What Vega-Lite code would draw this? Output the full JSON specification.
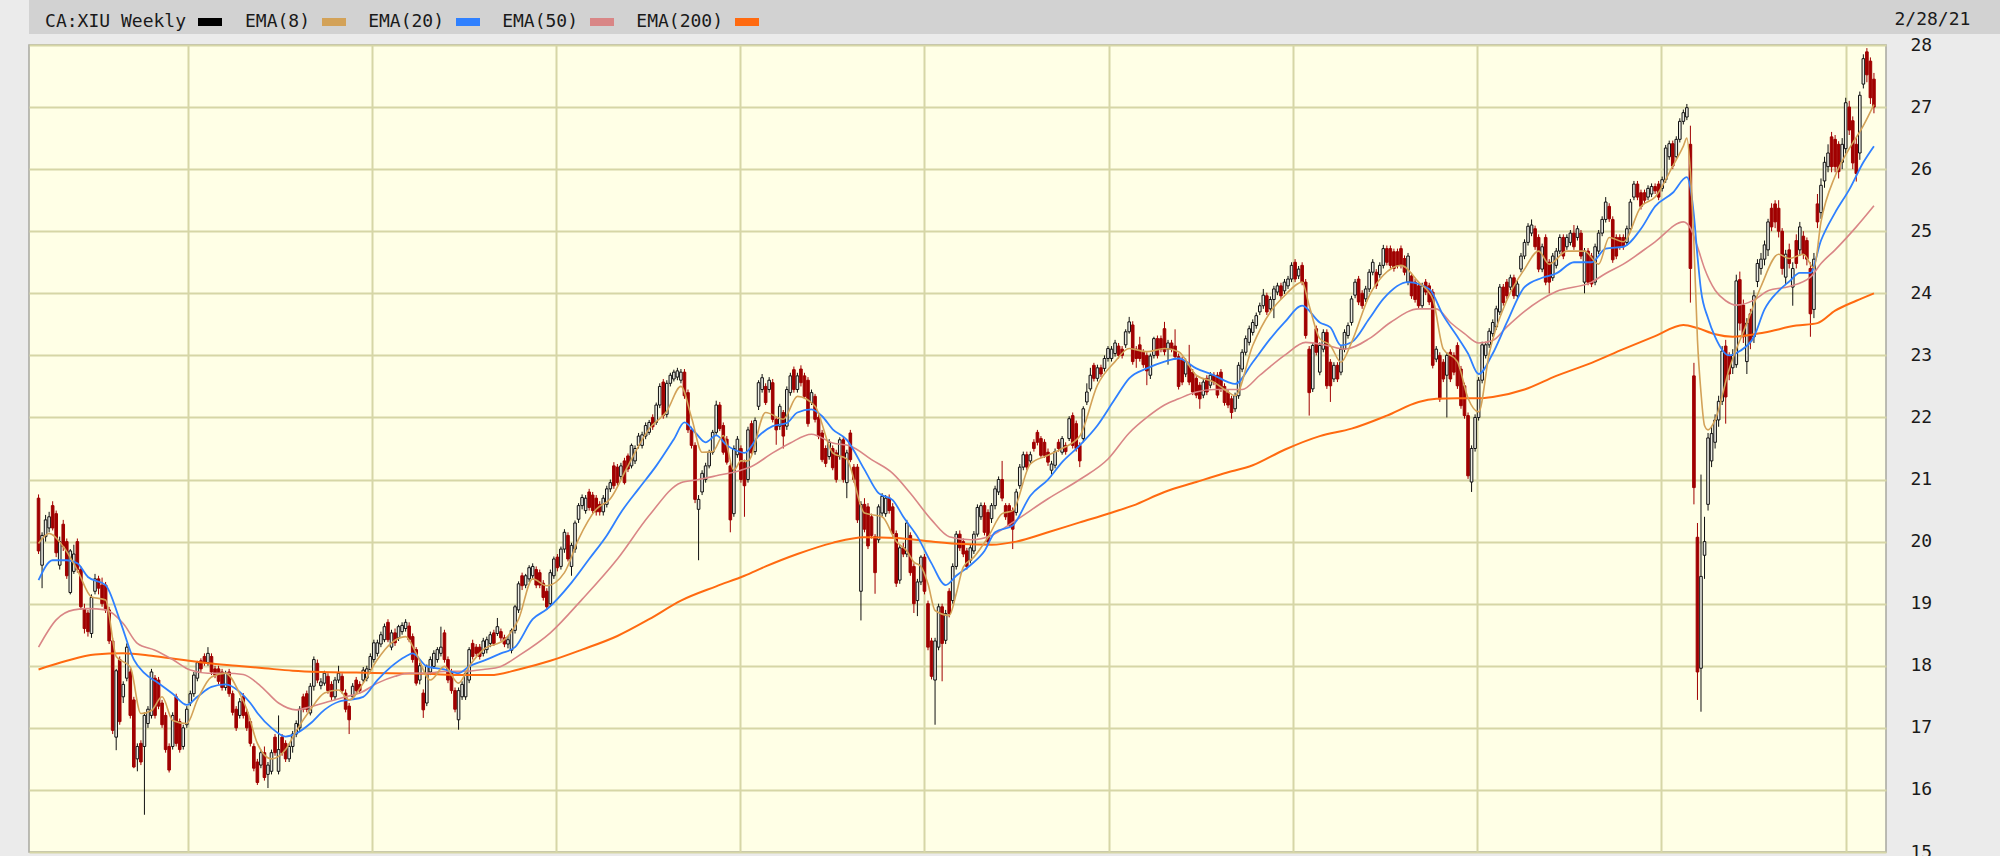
{
"$schema": "https://vega.github.io/schema/vega-lite/v6.json",
"padding": {"left": 28, "top": 0, "right": 0, "bottom": 0},
"background": "#ebebeb",
"spacing": 11,
"bounds": "flush",
"config": {
  "font": "DejaVu Sans Mono",
  "view": {"fill": "#ffffe6", "stroke": "#a8a8a0", "strokeWidth": 1.5}
},
"resolve": {"scale": {"color": "independent"}, "legend": {"color": "independent"}},
"datasets": {
"px": [
{"d":"2011-03-11","o":20.70,"h":20.76,"l":19.80,"c":19.85},
{"d":"2011-03-18","o":19.62,"h":20.15,"l":19.25,"c":20.10},
{"d":"2011-03-25","o":20.08,"h":20.43,"l":20.00,"c":20.35},
{"d":"2011-04-01","o":20.22,"h":20.48,"l":20.15,"c":20.40},
{"d":"2011-04-08","o":20.58,"h":20.65,"l":20.18,"c":20.22},
{"d":"2011-04-15","o":20.45,"h":20.50,"l":19.75,"c":19.82},
{"d":"2011-04-22","o":19.62,"h":20.08,"l":19.55,"c":20.00},
{"d":"2011-04-29","o":20.28,"h":20.35,"l":19.85,"c":19.92},
{"d":"2011-05-06","o":20.00,"h":20.05,"l":19.40,"c":19.45},
{"d":"2011-05-13","o":19.18,"h":19.88,"l":19.15,"c":19.85},
{"d":"2011-05-20","o":19.52,"h":19.95,"l":19.48,"c":19.80},
{"d":"2011-05-27","o":20.00,"h":20.05,"l":19.50,"c":19.55},
{"d":"2011-06-03","o":19.55,"h":19.60,"l":18.90,"c":18.95},
{"d":"2011-06-10","o":18.92,"h":19.00,"l":18.52,"c":18.60},
{"d":"2011-06-17","o":18.85,"h":18.90,"l":18.47,"c":18.55},
{"d":"2011-06-24","o":18.52,"h":19.15,"l":18.45,"c":19.10},
{"d":"2011-07-01","o":19.20,"h":19.48,"l":19.15,"c":19.40},
{"d":"2011-07-08","o":19.40,"h":19.45,"l":19.15,"c":19.25},
{"d":"2011-07-15","o":19.30,"h":19.42,"l":18.95,"c":19.00},
{"d":"2011-07-22","o":19.30,"h":19.35,"l":18.85,"c":18.90},
{"d":"2011-07-29","o":18.90,"h":18.95,"l":18.35,"c":18.40},
{"d":"2011-08-05","o":18.40,"h":18.45,"l":16.90,"c":16.96},
{"d":"2011-08-12","o":16.85,"h":17.95,"l":16.64,"c":17.92},
{"d":"2011-08-19","o":18.10,"h":18.15,"l":17.05,"c":17.10},
{"d":"2011-08-26","o":17.50,"h":17.75,"l":17.40,"c":17.70},
{"d":"2011-09-02","o":17.80,"h":18.36,"l":17.75,"c":18.30},
{"d":"2011-09-09","o":17.90,"h":17.95,"l":17.15,"c":17.20},
{"d":"2011-09-16","o":17.45,"h":17.50,"l":16.35,"c":16.37},
{"d":"2011-09-23","o":16.50,"h":16.75,"l":16.30,"c":16.70},
{"d":"2011-09-30","o":16.75,"h":16.80,"l":16.40,"c":16.45},
{"d":"2011-10-07","o":16.70,"h":17.25,"l":15.60,"c":17.20},
{"d":"2011-10-14","o":17.07,"h":17.35,"l":17.00,"c":17.30},
{"d":"2011-10-21","o":17.20,"h":17.95,"l":17.15,"c":17.90},
{"d":"2011-10-28","o":17.80,"h":17.85,"l":17.15,"c":17.20},
{"d":"2011-11-04","o":17.77,"h":17.82,"l":17.30,"c":17.35},
{"d":"2011-11-11","o":17.40,"h":17.45,"l":17.00,"c":17.05},
{"d":"2011-11-18","o":17.20,"h":17.25,"l":16.60,"c":16.65},
{"d":"2011-11-25","o":16.70,"h":16.75,"l":16.28,"c":16.32},
{"d":"2011-12-02","o":16.70,"h":17.25,"l":16.65,"c":17.20},
{"d":"2011-12-09","o":17.50,"h":17.55,"l":16.70,"c":16.75},
{"d":"2011-12-16","o":17.10,"h":17.15,"l":16.60,"c":16.65},
{"d":"2011-12-23","o":16.70,"h":17.05,"l":16.65,"c":17.00},
{"d":"2011-12-30","o":17.05,"h":17.35,"l":17.00,"c":17.30},
{"d":"2012-01-06","o":17.40,"h":17.60,"l":17.35,"c":17.55},
{"d":"2012-01-13","o":17.55,"h":17.90,"l":17.50,"c":17.85},
{"d":"2012-01-20","o":17.80,"h":18.08,"l":17.75,"c":18.05},
{"d":"2012-01-27","o":18.08,"h":18.12,"l":17.90,"c":17.95},
{"d":"2012-02-03","o":18.15,"h":18.20,"l":18.00,"c":18.05},
{"d":"2012-02-10","o":18.05,"h":18.30,"l":18.00,"c":18.20},
{"d":"2012-02-17","o":18.15,"h":18.20,"l":17.85,"c":17.90},
{"d":"2012-02-24","o":17.95,"h":18.00,"l":17.80,"c":17.85},
{"d":"2012-03-02","o":17.95,"h":18.00,"l":17.70,"c":17.75},
{"d":"2012-03-09","o":17.90,"h":17.95,"l":17.60,"c":17.65},
{"d":"2012-03-16","o":17.65,"h":17.92,"l":17.60,"c":17.88},
{"d":"2012-03-23","o":17.90,"h":17.95,"l":17.50,"c":17.55},
{"d":"2012-03-30","o":17.55,"h":17.60,"l":17.20,"c":17.25},
{"d":"2012-04-06","o":17.30,"h":17.35,"l":16.95,"c":17.00},
{"d":"2012-04-13","o":17.20,"h":17.48,"l":17.15,"c":17.42},
{"d":"2012-04-20","o":17.50,"h":17.56,"l":17.15,"c":17.20},
{"d":"2012-04-27","o":17.25,"h":17.30,"l":16.95,"c":17.00},
{"d":"2012-05-04","o":17.10,"h":17.15,"l":16.70,"c":16.75},
{"d":"2012-05-11","o":16.70,"h":16.75,"l":16.30,"c":16.35},
{"d":"2012-05-18","o":16.45,"h":16.50,"l":16.08,"c":16.12},
{"d":"2012-05-25","o":16.40,"h":16.65,"l":16.35,"c":16.60},
{"d":"2012-06-01","o":16.60,"h":16.70,"l":16.15,"c":16.20},
{"d":"2012-06-08","o":16.25,"h":16.45,"l":16.03,"c":16.40},
{"d":"2012-06-15","o":16.30,"h":16.65,"l":16.25,"c":16.60},
{"d":"2012-06-22","o":16.85,"h":16.90,"l":16.55,"c":16.60},
{"d":"2012-06-29","o":16.30,"h":17.20,"l":16.25,"c":16.65},
{"d":"2012-07-06","o":16.85,"h":16.90,"l":16.55,"c":16.60},
{"d":"2012-07-13","o":16.75,"h":16.80,"l":16.45,"c":16.50},
{"d":"2012-07-20","o":16.50,"h":16.75,"l":16.45,"c":16.70},
{"d":"2012-07-27","o":16.70,"h":16.95,"l":16.60,"c":16.90},
{"d":"2012-08-03","o":16.90,"h":17.12,"l":16.85,"c":17.07},
{"d":"2012-08-10","o":17.00,"h":17.35,"l":16.95,"c":17.30},
{"d":"2012-08-17","o":17.50,"h":17.55,"l":17.25,"c":17.30},
{"d":"2012-08-24","o":17.55,"h":17.60,"l":17.25,"c":17.30},
{"d":"2012-08-31","o":17.24,"h":17.72,"l":17.20,"c":17.67},
{"d":"2012-09-07","o":17.67,"h":18.15,"l":17.60,"c":18.10},
{"d":"2012-09-14","o":18.04,"h":18.10,"l":17.72,"c":17.77},
{"d":"2012-09-21","o":17.68,"h":17.80,"l":17.62,"c":17.74},
{"d":"2012-09-28","o":17.72,"h":17.92,"l":17.68,"c":17.88},
{"d":"2012-10-05","o":17.83,"h":17.88,"l":17.55,"c":17.60},
{"d":"2012-10-12","o":17.70,"h":17.75,"l":17.45,"c":17.50},
{"d":"2012-10-19","o":17.50,"h":17.82,"l":17.45,"c":17.77},
{"d":"2012-10-26","o":17.77,"h":18.00,"l":17.72,"c":17.88},
{"d":"2012-11-02","o":17.83,"h":17.88,"l":17.55,"c":17.60},
{"d":"2012-11-09","o":17.56,"h":17.62,"l":17.25,"c":17.30},
{"d":"2012-11-16","o":17.35,"h":17.40,"l":16.90,"c":17.13},
{"d":"2012-11-23","o":17.50,"h":17.72,"l":17.45,"c":17.67},
{"d":"2012-11-30","o":17.77,"h":17.82,"l":17.55,"c":17.60},
{"d":"2012-12-07","o":17.70,"h":17.75,"l":17.55,"c":17.60},
{"d":"2012-12-14","o":17.77,"h":17.98,"l":17.72,"c":17.93},
{"d":"2012-12-21","o":17.80,"h":18.00,"l":17.75,"c":17.95},
{"d":"2012-12-28","o":17.94,"h":18.20,"l":17.90,"c":18.15},
{"d":"2013-01-04","o":18.10,"h":18.42,"l":18.05,"c":18.37},
{"d":"2013-01-11","o":18.20,"h":18.42,"l":18.15,"c":18.37},
{"d":"2013-01-18","o":18.35,"h":18.55,"l":18.30,"c":18.50},
{"d":"2013-01-25","o":18.42,"h":18.68,"l":18.38,"c":18.63},
{"d":"2013-02-01","o":18.70,"h":18.75,"l":18.38,"c":18.42},
{"d":"2013-02-08","o":18.30,"h":18.58,"l":18.25,"c":18.53},
{"d":"2013-02-15","o":18.53,"h":18.60,"l":18.32,"c":18.37},
{"d":"2013-02-22","o":18.45,"h":18.66,"l":18.40,"c":18.63},
{"d":"2013-03-01","o":18.55,"h":18.70,"l":18.50,"c":18.65},
{"d":"2013-03-08","o":18.60,"h":18.75,"l":18.55,"c":18.70},
{"d":"2013-03-15","o":18.64,"h":18.70,"l":18.38,"c":18.42},
{"d":"2013-03-22","o":18.47,"h":18.52,"l":18.05,"c":18.10},
{"d":"2013-03-29","o":18.26,"h":18.30,"l":17.68,"c":17.72},
{"d":"2013-04-05","o":17.77,"h":18.05,"l":17.70,"c":18.00},
{"d":"2013-04-12","o":17.56,"h":17.62,"l":17.16,"c":17.29},
{"d":"2013-04-19","o":17.40,"h":18.02,"l":17.35,"c":17.99},
{"d":"2013-04-26","o":17.90,"h":18.15,"l":17.85,"c":18.10},
{"d":"2013-05-03","o":17.99,"h":18.25,"l":17.95,"c":18.20},
{"d":"2013-05-10","o":18.10,"h":18.30,"l":18.05,"c":18.26},
{"d":"2013-05-17","o":18.20,"h":18.63,"l":18.15,"c":18.30},
{"d":"2013-05-24","o":18.53,"h":18.58,"l":18.05,"c":18.10},
{"d":"2013-05-31","o":18.10,"h":18.15,"l":17.72,"c":17.77},
{"d":"2013-06-07","o":17.90,"h":17.95,"l":17.55,"c":17.60},
{"d":"2013-06-14","o":17.60,"h":17.65,"l":17.25,"c":17.30},
{"d":"2013-06-21","o":17.13,"h":17.65,"l":16.97,"c":17.60},
{"d":"2013-06-28","o":17.50,"h":17.75,"l":17.45,"c":17.70},
{"d":"2013-07-05","o":17.50,"h":17.92,"l":17.45,"c":17.88},
{"d":"2013-07-12","o":17.77,"h":18.30,"l":17.72,"c":18.26},
{"d":"2013-07-19","o":18.36,"h":18.42,"l":18.10,"c":18.15},
{"d":"2013-07-26","o":18.30,"h":18.35,"l":18.15,"c":18.20},
{"d":"2013-08-02","o":18.30,"h":18.35,"l":18.10,"c":18.15},
{"d":"2013-08-09","o":18.20,"h":18.45,"l":18.15,"c":18.40},
{"d":"2013-08-16","o":18.26,"h":18.47,"l":18.20,"c":18.42},
{"d":"2013-08-23","o":18.36,"h":18.55,"l":18.30,"c":18.50},
{"d":"2013-08-30","o":18.53,"h":18.58,"l":18.32,"c":18.36},
{"d":"2013-09-06","o":18.52,"h":18.77,"l":18.48,"c":18.63},
{"d":"2013-09-13","o":18.55,"h":18.60,"l":18.40,"c":18.45},
{"d":"2013-09-20","o":18.45,"h":18.50,"l":18.30,"c":18.35},
{"d":"2013-09-27","o":18.35,"h":18.48,"l":18.28,"c":18.42},
{"d":"2013-10-04","o":18.25,"h":18.60,"l":18.20,"c":18.57},
{"d":"2013-10-11","o":18.57,"h":18.98,"l":18.52,"c":18.95},
{"d":"2013-10-18","o":18.90,"h":19.36,"l":18.85,"c":19.32},
{"d":"2013-10-25","o":19.45,"h":19.50,"l":19.22,"c":19.29},
{"d":"2013-11-01","o":19.30,"h":19.48,"l":19.25,"c":19.45},
{"d":"2013-11-08","o":19.40,"h":19.62,"l":19.35,"c":19.58},
{"d":"2013-11-15","o":19.45,"h":19.65,"l":19.40,"c":19.60},
{"d":"2013-11-22","o":19.55,"h":19.60,"l":19.25,"c":19.30},
{"d":"2013-11-29","o":19.50,"h":19.55,"l":19.25,"c":19.30},
{"d":"2013-12-06","o":19.33,"h":19.38,"l":19.05,"c":19.10},
{"d":"2013-12-13","o":19.20,"h":19.25,"l":18.90,"c":18.95},
{"d":"2013-12-20","o":19.00,"h":19.55,"l":18.95,"c":19.50},
{"d":"2013-12-27","o":19.45,"h":19.76,"l":19.40,"c":19.72},
{"d":"2014-01-03","o":19.75,"h":19.80,"l":19.52,"c":19.58},
{"d":"2014-01-10","o":19.60,"h":19.92,"l":19.55,"c":19.88},
{"d":"2014-01-17","o":19.88,"h":20.20,"l":19.82,"c":20.15},
{"d":"2014-01-24","o":20.10,"h":20.15,"l":19.68,"c":19.72},
{"d":"2014-01-31","o":19.60,"h":19.98,"l":19.45,"c":19.94},
{"d":"2014-02-07","o":19.88,"h":20.34,"l":19.82,"c":20.30},
{"d":"2014-02-14","o":20.36,"h":20.62,"l":20.30,"c":20.58},
{"d":"2014-02-21","o":20.58,"h":20.76,"l":20.52,"c":20.71},
{"d":"2014-02-28","o":20.50,"h":20.75,"l":20.45,"c":20.70},
{"d":"2014-03-07","o":20.80,"h":20.85,"l":20.50,"c":20.55},
{"d":"2014-03-14","o":20.75,"h":20.80,"l":20.45,"c":20.50},
{"d":"2014-03-21","o":20.70,"h":20.75,"l":20.42,"c":20.48},
{"d":"2014-03-28","o":20.60,"h":20.65,"l":20.42,"c":20.48},
{"d":"2014-04-04","o":20.48,"h":20.75,"l":20.42,"c":20.70},
{"d":"2014-04-11","o":20.60,"h":20.90,"l":20.55,"c":20.85},
{"d":"2014-04-18","o":20.85,"h":21.00,"l":20.80,"c":20.95},
{"d":"2014-04-25","o":21.22,"h":21.28,"l":20.85,"c":20.90},
{"d":"2014-05-02","o":21.20,"h":21.25,"l":20.90,"c":20.95},
{"d":"2014-05-09","o":21.05,"h":21.27,"l":21.00,"c":21.22},
{"d":"2014-05-16","o":21.30,"h":21.35,"l":20.92,"c":20.95},
{"d":"2014-05-23","o":21.38,"h":21.42,"l":21.12,"c":21.17},
{"d":"2014-05-30","o":21.22,"h":21.58,"l":21.18,"c":21.55},
{"d":"2014-06-06","o":21.30,"h":21.55,"l":21.25,"c":21.50},
{"d":"2014-06-13","o":21.55,"h":21.75,"l":21.50,"c":21.70},
{"d":"2014-06-20","o":21.55,"h":21.77,"l":21.50,"c":21.72},
{"d":"2014-06-27","o":21.70,"h":21.92,"l":21.65,"c":21.87},
{"d":"2014-07-04","o":21.76,"h":21.96,"l":21.72,"c":21.92},
{"d":"2014-07-11","o":22.00,"h":22.05,"l":21.80,"c":21.85},
{"d":"2014-07-18","o":21.92,"h":22.24,"l":21.88,"c":22.20},
{"d":"2014-07-25","o":22.20,"h":22.55,"l":22.15,"c":22.50},
{"d":"2014-08-01","o":22.57,"h":22.62,"l":21.98,"c":22.03},
{"d":"2014-08-08","o":22.05,"h":22.60,"l":22.00,"c":22.55},
{"d":"2014-08-15","o":22.55,"h":22.72,"l":22.50,"c":22.68},
{"d":"2014-08-22","o":22.62,"h":22.77,"l":22.58,"c":22.73},
{"d":"2014-08-29","o":22.65,"h":22.80,"l":22.60,"c":22.75},
{"d":"2014-09-05","o":22.60,"h":22.78,"l":22.55,"c":22.73},
{"d":"2014-09-12","o":22.73,"h":22.78,"l":22.30,"c":22.35},
{"d":"2014-09-19","o":22.40,"h":22.45,"l":21.75,"c":21.80},
{"d":"2014-09-26","o":21.80,"h":21.85,"l":21.50,"c":21.55},
{"d":"2014-10-03","o":21.55,"h":21.60,"l":20.62,"c":20.68},
{"d":"2014-10-10","o":20.52,"h":20.75,"l":19.70,"c":20.68},
{"d":"2014-10-17","o":20.80,"h":21.15,"l":20.75,"c":21.10},
{"d":"2014-10-24","o":21.00,"h":21.27,"l":20.95,"c":21.22},
{"d":"2014-10-31","o":21.22,"h":21.48,"l":21.18,"c":21.44},
{"d":"2014-11-07","o":21.44,"h":21.80,"l":21.40,"c":21.76},
{"d":"2014-11-14","o":21.76,"h":22.27,"l":21.72,"c":22.20},
{"d":"2014-11-21","o":22.20,"h":22.25,"l":21.78,"c":21.82},
{"d":"2014-11-28","o":21.87,"h":21.92,"l":21.40,"c":21.44},
{"d":"2014-12-05","o":21.65,"h":21.70,"l":21.24,"c":21.28},
{"d":"2014-12-12","o":21.22,"h":21.27,"l":20.15,"c":20.35},
{"d":"2014-12-19","o":20.45,"h":21.55,"l":20.40,"c":21.50},
{"d":"2014-12-26","o":21.40,"h":21.70,"l":21.35,"c":21.65},
{"d":"2015-01-02","o":21.50,"h":21.55,"l":20.95,"c":21.00},
{"d":"2015-01-09","o":21.27,"h":21.32,"l":20.40,"c":20.90},
{"d":"2015-01-16","o":21.00,"h":21.85,"l":20.95,"c":21.80},
{"d":"2015-01-23","o":21.90,"h":21.95,"l":21.40,"c":21.43},
{"d":"2015-01-30","o":21.45,"h":22.00,"l":21.40,"c":21.95},
{"d":"2015-02-06","o":22.18,"h":22.60,"l":22.12,"c":22.56},
{"d":"2015-02-13","o":22.45,"h":22.70,"l":22.40,"c":22.64},
{"d":"2015-02-20","o":22.50,"h":22.55,"l":22.20,"c":22.24},
{"d":"2015-02-27","o":22.45,"h":22.65,"l":22.40,"c":22.60},
{"d":"2015-03-06","o":22.56,"h":22.62,"l":21.92,"c":21.97},
{"d":"2015-03-13","o":21.97,"h":22.02,"l":21.56,"c":21.80},
{"d":"2015-03-20","o":21.86,"h":22.22,"l":21.80,"c":22.18},
{"d":"2015-03-27","o":22.08,"h":22.12,"l":21.50,"c":21.70},
{"d":"2015-04-03","o":21.86,"h":22.50,"l":21.80,"c":22.45},
{"d":"2015-04-10","o":22.40,"h":22.72,"l":22.35,"c":22.67},
{"d":"2015-04-17","o":22.77,"h":22.82,"l":22.40,"c":22.45},
{"d":"2015-04-24","o":22.45,"h":22.72,"l":22.40,"c":22.67},
{"d":"2015-05-01","o":22.78,"h":22.84,"l":22.50,"c":22.56},
{"d":"2015-05-08","o":22.67,"h":22.72,"l":22.30,"c":22.34},
{"d":"2015-05-15","o":22.60,"h":22.65,"l":21.85,"c":21.90},
{"d":"2015-05-22","o":22.24,"h":22.45,"l":22.20,"c":22.40},
{"d":"2015-05-29","o":22.34,"h":22.38,"l":21.92,"c":21.97},
{"d":"2015-06-05","o":22.00,"h":22.05,"l":21.65,"c":21.70},
{"d":"2015-06-12","o":21.75,"h":21.80,"l":21.28,"c":21.32},
{"d":"2015-06-19","o":21.50,"h":21.55,"l":21.20,"c":21.26},
{"d":"2015-06-26","o":21.37,"h":21.65,"l":21.32,"c":21.60},
{"d":"2015-07-03","o":21.50,"h":21.55,"l":21.15,"c":21.19},
{"d":"2015-07-10","o":21.43,"h":21.48,"l":20.95,"c":21.00},
{"d":"2015-07-17","o":21.37,"h":21.68,"l":21.32,"c":21.64},
{"d":"2015-07-24","o":21.64,"h":21.70,"l":20.95,"c":21.00},
{"d":"2015-07-31","o":20.95,"h":21.48,"l":20.70,"c":21.43},
{"d":"2015-08-07","o":21.75,"h":21.80,"l":21.28,"c":21.32},
{"d":"2015-08-14","o":21.20,"h":21.25,"l":20.95,"c":21.00},
{"d":"2015-08-21","o":21.20,"h":21.25,"l":20.30,"c":20.35},
{"d":"2015-08-28","o":19.20,"h":20.65,"l":18.73,"c":20.60},
{"d":"2015-09-04","o":20.60,"h":20.70,"l":20.15,"c":20.20},
{"d":"2015-09-11","o":20.56,"h":20.62,"l":19.88,"c":19.93},
{"d":"2015-09-18","o":20.40,"h":20.45,"l":20.05,"c":20.10},
{"d":"2015-09-25","o":20.08,"h":20.12,"l":19.16,"c":19.50},
{"d":"2015-10-02","o":20.03,"h":20.60,"l":19.98,"c":20.56},
{"d":"2015-10-09","o":20.46,"h":20.78,"l":20.40,"c":20.73},
{"d":"2015-10-16","o":20.45,"h":20.75,"l":20.40,"c":20.70},
{"d":"2015-10-23","o":20.70,"h":20.76,"l":20.45,"c":20.50},
{"d":"2015-10-30","o":20.56,"h":20.62,"l":20.08,"c":20.13},
{"d":"2015-11-06","o":20.13,"h":20.18,"l":19.27,"c":19.33},
{"d":"2015-11-13","o":19.38,"h":19.95,"l":19.32,"c":19.90},
{"d":"2015-11-20","o":19.90,"h":19.98,"l":19.75,"c":19.80},
{"d":"2015-11-27","o":19.80,"h":20.35,"l":19.75,"c":20.30},
{"d":"2015-12-04","o":20.10,"h":20.15,"l":19.45,"c":19.50},
{"d":"2015-12-11","o":19.60,"h":19.65,"l":18.85,"c":19.00},
{"d":"2015-12-18","o":19.05,"h":19.40,"l":18.80,"c":19.35},
{"d":"2015-12-25","o":19.35,"h":19.78,"l":19.30,"c":19.75},
{"d":"2016-01-01","o":19.75,"h":19.80,"l":19.15,"c":19.20},
{"d":"2016-01-08","o":19.00,"h":19.05,"l":18.25,"c":18.30},
{"d":"2016-01-15","o":18.40,"h":18.45,"l":17.78,"c":17.83},
{"d":"2016-01-22","o":17.77,"h":18.45,"l":17.05,"c":18.40},
{"d":"2016-01-29","o":18.30,"h":19.00,"l":18.25,"c":18.95},
{"d":"2016-02-05","o":18.95,"h":19.00,"l":17.75,"c":18.36},
{"d":"2016-02-12","o":18.41,"h":18.90,"l":18.35,"c":18.84},
{"d":"2016-02-19","o":19.20,"h":19.25,"l":18.78,"c":18.84},
{"d":"2016-02-26","o":19.05,"h":19.65,"l":19.00,"c":19.60},
{"d":"2016-03-04","o":19.60,"h":20.17,"l":19.55,"c":20.12},
{"d":"2016-03-11","o":20.12,"h":20.18,"l":19.85,"c":19.90},
{"d":"2016-03-18","o":20.00,"h":20.05,"l":19.75,"c":19.80},
{"d":"2016-03-25","o":19.85,"h":19.90,"l":19.55,"c":19.60},
{"d":"2016-04-01","o":19.70,"h":19.95,"l":19.65,"c":19.90},
{"d":"2016-04-08","o":19.85,"h":20.17,"l":19.80,"c":20.12},
{"d":"2016-04-15","o":20.12,"h":20.60,"l":20.08,"c":20.55},
{"d":"2016-04-22","o":20.40,"h":20.63,"l":20.35,"c":20.58},
{"d":"2016-04-29","o":20.58,"h":20.63,"l":20.10,"c":20.15},
{"d":"2016-05-06","o":20.47,"h":20.52,"l":19.95,"c":20.00},
{"d":"2016-05-13","o":20.37,"h":20.62,"l":20.30,"c":20.58},
{"d":"2016-05-20","o":20.58,"h":20.90,"l":20.52,"c":20.85},
{"d":"2016-05-27","o":20.80,"h":21.05,"l":20.75,"c":21.00},
{"d":"2016-06-03","o":21.00,"h":21.30,"l":20.65,"c":20.70},
{"d":"2016-06-10","o":20.58,"h":20.62,"l":20.35,"c":20.40},
{"d":"2016-06-17","o":20.58,"h":20.62,"l":20.22,"c":20.26},
{"d":"2016-06-24","o":20.50,"h":20.55,"l":19.88,"c":20.20},
{"d":"2016-07-01","o":20.47,"h":20.85,"l":20.42,"c":20.80},
{"d":"2016-07-08","o":20.90,"h":21.25,"l":20.85,"c":21.20},
{"d":"2016-07-15","o":21.20,"h":21.45,"l":21.15,"c":21.40},
{"d":"2016-07-22","o":21.40,"h":21.45,"l":21.15,"c":21.20},
{"d":"2016-07-29","o":21.30,"h":21.45,"l":21.25,"c":21.40},
{"d":"2016-08-05","o":21.60,"h":21.65,"l":21.45,"c":21.50},
{"d":"2016-08-12","o":21.76,"h":21.80,"l":21.55,"c":21.60},
{"d":"2016-08-19","o":21.66,"h":21.70,"l":21.35,"c":21.39},
{"d":"2016-08-26","o":21.60,"h":21.65,"l":21.35,"c":21.39},
{"d":"2016-09-02","o":21.44,"h":21.50,"l":21.22,"c":21.28},
{"d":"2016-09-09","o":21.15,"h":21.30,"l":21.08,"c":21.25},
{"d":"2016-09-16","o":21.23,"h":21.50,"l":21.18,"c":21.45},
{"d":"2016-09-23","o":21.60,"h":21.65,"l":21.45,"c":21.50},
{"d":"2016-09-30","o":21.44,"h":21.70,"l":21.40,"c":21.66},
{"d":"2016-10-07","o":21.55,"h":21.60,"l":21.40,"c":21.45},
{"d":"2016-10-14","o":21.66,"h":22.02,"l":21.62,"c":21.98},
{"d":"2016-10-21","o":22.03,"h":22.08,"l":21.50,"c":21.55},
{"d":"2016-10-28","o":21.90,"h":21.95,"l":21.45,"c":21.50},
{"d":"2016-11-04","o":21.55,"h":21.60,"l":21.20,"c":21.30},
{"d":"2016-11-11","o":21.66,"h":22.18,"l":21.60,"c":22.14},
{"d":"2016-11-18","o":22.25,"h":22.55,"l":22.20,"c":22.41},
{"d":"2016-11-25","o":22.46,"h":22.80,"l":22.42,"c":22.68},
{"d":"2016-12-02","o":22.84,"h":22.88,"l":22.58,"c":22.63},
{"d":"2016-12-09","o":22.63,"h":22.85,"l":22.58,"c":22.80},
{"d":"2016-12-16","o":22.80,"h":22.85,"l":22.65,"c":22.70},
{"d":"2016-12-23","o":22.79,"h":23.00,"l":22.74,"c":22.95},
{"d":"2016-12-30","o":22.95,"h":23.15,"l":22.90,"c":23.11},
{"d":"2017-01-06","o":22.95,"h":23.15,"l":22.90,"c":23.10},
{"d":"2017-01-13","o":23.03,"h":23.25,"l":22.98,"c":23.20},
{"d":"2017-01-20","o":23.15,"h":23.20,"l":22.95,"c":23.00},
{"d":"2017-01-27","o":23.10,"h":23.15,"l":22.95,"c":23.00},
{"d":"2017-02-03","o":23.17,"h":23.42,"l":23.12,"c":23.38},
{"d":"2017-02-10","o":23.38,"h":23.62,"l":23.35,"c":23.54},
{"d":"2017-02-17","o":23.49,"h":23.55,"l":22.85,"c":22.90},
{"d":"2017-02-24","o":23.10,"h":23.15,"l":22.80,"c":22.95},
{"d":"2017-03-03","o":23.17,"h":23.30,"l":22.90,"c":22.95},
{"d":"2017-03-10","o":23.05,"h":23.10,"l":22.80,"c":22.85},
{"d":"2017-03-17","o":23.00,"h":23.05,"l":22.52,"c":22.75},
{"d":"2017-03-24","o":22.68,"h":23.03,"l":22.62,"c":22.99},
{"d":"2017-03-31","o":23.00,"h":23.30,"l":22.95,"c":23.27},
{"d":"2017-04-07","o":23.27,"h":23.32,"l":22.95,"c":23.00},
{"d":"2017-04-14","o":23.27,"h":23.32,"l":23.05,"c":23.10},
{"d":"2017-04-21","o":23.43,"h":23.54,"l":23.00,"c":23.06},
{"d":"2017-04-28","o":23.10,"h":23.25,"l":22.85,"c":23.20},
{"d":"2017-05-05","o":23.20,"h":23.25,"l":23.05,"c":23.10},
{"d":"2017-05-12","o":23.15,"h":23.42,"l":22.93,"c":22.98},
{"d":"2017-05-19","o":22.98,"h":23.03,"l":22.45,"c":22.50},
{"d":"2017-05-26","o":22.93,"h":22.98,"l":22.52,"c":22.57},
{"d":"2017-06-02","o":22.70,"h":22.95,"l":22.65,"c":22.90},
{"d":"2017-06-09","o":22.84,"h":23.17,"l":22.52,"c":22.57},
{"d":"2017-06-16","o":22.73,"h":22.78,"l":22.36,"c":22.41},
{"d":"2017-06-23","o":22.63,"h":22.68,"l":22.31,"c":22.36},
{"d":"2017-06-30","o":22.52,"h":22.57,"l":22.14,"c":22.30},
{"d":"2017-07-07","o":22.36,"h":22.62,"l":22.31,"c":22.57},
{"d":"2017-07-14","o":22.63,"h":22.68,"l":22.36,"c":22.41},
{"d":"2017-07-21","o":22.52,"h":22.73,"l":22.47,"c":22.68},
{"d":"2017-07-28","o":22.68,"h":22.73,"l":22.52,"c":22.57},
{"d":"2017-08-04","o":22.68,"h":22.73,"l":22.31,"c":22.36},
{"d":"2017-08-11","o":22.73,"h":22.78,"l":22.41,"c":22.46},
{"d":"2017-08-18","o":22.50,"h":22.55,"l":22.19,"c":22.24},
{"d":"2017-08-25","o":22.40,"h":22.45,"l":22.15,"c":22.20},
{"d":"2017-09-01","o":22.30,"h":22.35,"l":21.98,"c":22.08},
{"d":"2017-09-08","o":22.14,"h":22.40,"l":22.09,"c":22.35},
{"d":"2017-09-15","o":22.35,"h":22.89,"l":22.30,"c":22.84},
{"d":"2017-09-22","o":22.78,"h":23.10,"l":22.73,"c":23.05},
{"d":"2017-09-29","o":23.05,"h":23.32,"l":23.00,"c":23.27},
{"d":"2017-10-06","o":23.21,"h":23.48,"l":23.16,"c":23.43},
{"d":"2017-10-13","o":23.37,"h":23.58,"l":23.32,"c":23.53},
{"d":"2017-10-20","o":23.48,"h":23.69,"l":23.43,"c":23.64},
{"d":"2017-10-27","o":23.70,"h":23.85,"l":23.65,"c":23.80},
{"d":"2017-11-03","o":23.80,"h":24.07,"l":23.75,"c":23.97},
{"d":"2017-11-10","o":23.96,"h":24.01,"l":23.65,"c":23.70},
{"d":"2017-11-17","o":23.75,"h":23.95,"l":23.70,"c":23.90},
{"d":"2017-11-24","o":23.90,"h":24.12,"l":23.60,"c":24.07},
{"d":"2017-12-01","o":24.02,"h":24.17,"l":23.97,"c":24.12},
{"d":"2017-12-08","o":24.12,"h":24.17,"l":23.91,"c":23.96},
{"d":"2017-12-15","o":24.04,"h":24.23,"l":23.99,"c":24.18},
{"d":"2017-12-22","o":24.12,"h":24.28,"l":24.07,"c":24.23},
{"d":"2017-12-29","o":24.23,"h":24.50,"l":24.18,"c":24.45},
{"d":"2018-01-05","o":24.50,"h":24.55,"l":24.18,"c":24.23},
{"d":"2018-01-12","o":24.28,"h":24.44,"l":24.23,"c":24.39},
{"d":"2018-01-19","o":24.45,"h":24.50,"l":24.13,"c":24.18},
{"d":"2018-01-26","o":24.18,"h":24.23,"l":23.27,"c":23.32},
{"d":"2018-02-02","o":23.10,"h":23.15,"l":22.03,"c":22.40},
{"d":"2018-02-09","o":22.46,"h":23.21,"l":22.41,"c":23.16},
{"d":"2018-02-16","o":23.43,"h":23.48,"l":23.00,"c":23.05},
{"d":"2018-02-23","o":22.73,"h":23.21,"l":22.68,"c":23.16},
{"d":"2018-03-02","o":23.10,"h":23.42,"l":23.05,"c":23.37},
{"d":"2018-03-09","o":23.37,"h":23.42,"l":22.46,"c":22.51},
{"d":"2018-03-16","o":22.89,"h":22.94,"l":22.25,"c":22.51},
{"d":"2018-03-23","o":22.62,"h":22.89,"l":22.57,"c":22.84},
{"d":"2018-03-30","o":22.84,"h":22.89,"l":22.57,"c":22.62},
{"d":"2018-04-06","o":22.73,"h":23.15,"l":22.68,"c":23.10},
{"d":"2018-04-13","o":23.10,"h":23.42,"l":23.05,"c":23.37},
{"d":"2018-04-20","o":23.32,"h":23.53,"l":23.27,"c":23.48},
{"d":"2018-04-27","o":23.53,"h":23.96,"l":23.48,"c":23.91},
{"d":"2018-05-04","o":23.97,"h":24.23,"l":23.92,"c":24.18},
{"d":"2018-05-11","o":24.23,"h":24.28,"l":23.81,"c":23.86},
{"d":"2018-05-18","o":24.00,"h":24.05,"l":23.75,"c":23.80},
{"d":"2018-05-25","o":23.91,"h":24.12,"l":23.86,"c":24.07},
{"d":"2018-06-01","o":24.07,"h":24.39,"l":24.02,"c":24.34},
{"d":"2018-06-08","o":24.34,"h":24.55,"l":24.29,"c":24.50},
{"d":"2018-06-15","o":24.34,"h":24.39,"l":24.07,"c":24.12},
{"d":"2018-06-22","o":24.30,"h":24.50,"l":24.25,"c":24.45},
{"d":"2018-06-29","o":24.45,"h":24.78,"l":24.40,"c":24.72},
{"d":"2018-07-06","o":24.72,"h":24.77,"l":24.45,"c":24.50},
{"d":"2018-07-13","o":24.72,"h":24.77,"l":24.40,"c":24.45},
{"d":"2018-07-20","o":24.67,"h":24.72,"l":24.35,"c":24.40},
{"d":"2018-07-27","o":24.67,"h":24.72,"l":24.40,"c":24.45},
{"d":"2018-08-03","o":24.72,"h":24.77,"l":24.40,"c":24.45},
{"d":"2018-08-10","o":24.56,"h":24.61,"l":24.29,"c":24.34},
{"d":"2018-08-17","o":24.18,"h":24.65,"l":24.13,"c":24.60},
{"d":"2018-08-24","o":24.28,"h":24.33,"l":23.91,"c":23.96},
{"d":"2018-08-31","o":24.18,"h":24.23,"l":23.85,"c":23.90},
{"d":"2018-09-07","o":24.12,"h":24.17,"l":23.75,"c":23.80},
{"d":"2018-09-14","o":23.80,"h":24.17,"l":23.75,"c":24.12},
{"d":"2018-09-21","o":24.18,"h":24.23,"l":23.97,"c":24.02},
{"d":"2018-09-28","o":24.12,"h":24.17,"l":23.81,"c":23.86},
{"d":"2018-10-05","o":24.02,"h":24.07,"l":22.79,"c":22.84},
{"d":"2018-10-12","o":22.94,"h":23.15,"l":22.89,"c":23.10},
{"d":"2018-10-19","o":23.00,"h":23.05,"l":22.25,"c":22.30},
{"d":"2018-10-26","o":22.89,"h":22.94,"l":22.57,"c":22.62},
{"d":"2018-11-02","o":22.68,"h":23.05,"l":22.00,"c":23.00},
{"d":"2018-11-09","o":23.05,"h":23.10,"l":22.57,"c":22.62},
{"d":"2018-11-16","o":23.00,"h":23.05,"l":22.68,"c":22.73},
{"d":"2018-11-23","o":23.16,"h":23.21,"l":22.46,"c":22.51},
{"d":"2018-11-30","o":22.78,"h":22.83,"l":22.14,"c":22.19},
{"d":"2018-12-07","o":22.51,"h":22.56,"l":21.98,"c":22.03},
{"d":"2018-12-14","o":22.03,"h":22.08,"l":21.01,"c":21.06},
{"d":"2018-12-21","o":20.96,"h":21.55,"l":20.80,"c":21.50},
{"d":"2018-12-28","o":21.50,"h":22.05,"l":21.45,"c":22.00},
{"d":"2019-01-04","o":22.00,"h":22.65,"l":21.95,"c":22.60},
{"d":"2019-01-11","o":22.60,"h":23.22,"l":22.55,"c":23.17},
{"d":"2019-01-18","o":23.00,"h":23.22,"l":22.95,"c":23.17},
{"d":"2019-01-25","o":23.17,"h":23.44,"l":23.12,"c":23.39},
{"d":"2019-02-01","o":23.35,"h":23.58,"l":23.30,"c":23.53},
{"d":"2019-02-08","o":23.46,"h":23.80,"l":23.41,"c":23.75},
{"d":"2019-02-15","o":23.70,"h":24.15,"l":23.65,"c":24.10},
{"d":"2019-02-22","o":24.10,"h":24.15,"l":23.80,"c":23.85},
{"d":"2019-03-01","o":24.18,"h":24.23,"l":23.91,"c":23.96},
{"d":"2019-03-08","o":24.10,"h":24.30,"l":24.05,"c":24.25},
{"d":"2019-03-15","o":24.25,"h":24.30,"l":23.91,"c":23.96},
{"d":"2019-03-22","o":23.96,"h":24.20,"l":23.91,"c":24.15},
{"d":"2019-03-29","o":24.39,"h":24.65,"l":24.34,"c":24.60},
{"d":"2019-04-05","o":24.60,"h":24.87,"l":24.55,"c":24.82},
{"d":"2019-04-12","o":24.82,"h":25.13,"l":24.77,"c":25.08},
{"d":"2019-04-19","o":24.97,"h":25.19,"l":24.92,"c":25.10},
{"d":"2019-04-26","o":25.04,"h":25.09,"l":24.70,"c":24.75},
{"d":"2019-05-03","o":24.90,"h":24.95,"l":24.34,"c":24.39},
{"d":"2019-05-10","o":24.39,"h":24.80,"l":24.34,"c":24.75},
{"d":"2019-05-17","o":24.90,"h":24.95,"l":24.13,"c":24.18},
{"d":"2019-05-24","o":24.50,"h":24.55,"l":24.00,"c":24.18},
{"d":"2019-05-31","o":24.25,"h":24.65,"l":24.20,"c":24.60},
{"d":"2019-06-07","o":24.45,"h":24.73,"l":24.40,"c":24.68},
{"d":"2019-06-14","o":24.68,"h":24.95,"l":24.63,"c":24.90},
{"d":"2019-06-21","o":24.90,"h":24.95,"l":24.55,"c":24.60},
{"d":"2019-06-28","o":24.75,"h":24.95,"l":24.70,"c":24.90},
{"d":"2019-07-05","o":24.82,"h":25.02,"l":24.77,"c":24.97},
{"d":"2019-07-12","o":24.97,"h":25.10,"l":24.70,"c":24.75},
{"d":"2019-07-19","o":24.90,"h":25.09,"l":24.85,"c":25.04},
{"d":"2019-07-26","o":24.97,"h":25.02,"l":24.55,"c":24.60},
{"d":"2019-08-02","o":24.18,"h":24.73,"l":24.00,"c":24.68},
{"d":"2019-08-09","o":24.68,"h":24.73,"l":24.13,"c":24.18},
{"d":"2019-08-16","o":24.60,"h":24.65,"l":24.10,"c":24.15},
{"d":"2019-08-23","o":24.18,"h":24.80,"l":24.13,"c":24.75},
{"d":"2019-08-30","o":24.68,"h":25.02,"l":24.63,"c":24.97},
{"d":"2019-09-06","o":24.97,"h":25.24,"l":24.92,"c":25.19},
{"d":"2019-09-13","o":25.19,"h":25.55,"l":25.14,"c":25.47},
{"d":"2019-09-20","o":25.40,"h":25.45,"l":25.15,"c":25.20},
{"d":"2019-09-27","o":25.19,"h":25.24,"l":24.49,"c":24.54},
{"d":"2019-10-04","o":24.90,"h":24.95,"l":24.55,"c":24.60},
{"d":"2019-10-11","o":24.90,"h":24.95,"l":24.70,"c":24.75},
{"d":"2019-10-18","o":24.90,"h":24.95,"l":24.70,"c":24.75},
{"d":"2019-10-25","o":24.82,"h":25.09,"l":24.77,"c":25.04},
{"d":"2019-11-01","o":25.04,"h":25.52,"l":24.99,"c":25.47},
{"d":"2019-11-08","o":25.55,"h":25.81,"l":25.50,"c":25.76},
{"d":"2019-11-15","o":25.76,"h":25.81,"l":25.50,"c":25.55},
{"d":"2019-11-22","o":25.62,"h":25.67,"l":25.35,"c":25.40},
{"d":"2019-11-29","o":25.62,"h":25.67,"l":25.45,"c":25.50},
{"d":"2019-12-06","o":25.55,"h":25.74,"l":25.50,"c":25.69},
{"d":"2019-12-13","o":25.60,"h":25.77,"l":25.55,"c":25.72},
{"d":"2019-12-20","o":25.72,"h":25.77,"l":25.60,"c":25.65},
{"d":"2019-12-27","o":25.76,"h":25.81,"l":25.50,"c":25.55},
{"d":"2020-01-03","o":25.69,"h":25.88,"l":25.64,"c":25.83},
{"d":"2020-01-10","o":25.83,"h":26.39,"l":25.78,"c":26.34},
{"d":"2020-01-17","o":26.20,"h":26.46,"l":26.15,"c":26.41},
{"d":"2020-01-24","o":26.41,"h":26.46,"l":26.00,"c":26.05},
{"d":"2020-01-31","o":26.20,"h":26.53,"l":26.15,"c":26.48},
{"d":"2020-02-07","o":26.48,"h":26.82,"l":26.43,"c":26.77},
{"d":"2020-02-14","o":26.77,"h":26.96,"l":26.72,"c":26.91},
{"d":"2020-02-21","o":26.84,"h":27.05,"l":26.79,"c":26.99},
{"d":"2020-02-28","o":26.40,"h":26.70,"l":23.85,"c":24.40},
{"d":"2020-03-06","o":22.67,"h":22.88,"l":20.60,"c":20.87},
{"d":"2020-03-13","o":20.07,"h":20.30,"l":17.45,"c":17.90},
{"d":"2020-03-20","o":17.96,"h":21.08,"l":17.26,"c":19.44},
{"d":"2020-03-27","o":19.78,"h":20.40,"l":19.40,"c":20.00},
{"d":"2020-04-03","o":20.60,"h":21.75,"l":20.50,"c":21.67},
{"d":"2020-04-10","o":21.30,"h":21.85,"l":21.20,"c":21.74},
{"d":"2020-04-17","o":21.60,"h":22.05,"l":21.50,"c":21.96},
{"d":"2020-04-24","o":21.96,"h":22.35,"l":21.85,"c":22.26},
{"d":"2020-05-01","o":22.26,"h":23.15,"l":22.20,"c":23.07},
{"d":"2020-05-08","o":23.15,"h":23.25,"l":21.90,"c":22.33},
{"d":"2020-05-15","o":23.00,"h":23.05,"l":22.60,"c":22.70},
{"d":"2020-05-22","o":22.80,"h":23.10,"l":22.70,"c":23.00},
{"d":"2020-05-29","o":22.85,"h":24.30,"l":22.80,"c":24.20},
{"d":"2020-06-05","o":24.22,"h":24.35,"l":23.40,"c":23.52},
{"d":"2020-06-12","o":23.81,"h":23.90,"l":23.20,"c":23.30},
{"d":"2020-06-19","o":22.90,"h":23.60,"l":22.70,"c":23.52},
{"d":"2020-06-26","o":23.67,"h":23.75,"l":23.10,"c":23.22},
{"d":"2020-07-03","o":23.30,"h":24.05,"l":23.20,"c":23.96},
{"d":"2020-07-10","o":24.19,"h":24.55,"l":24.10,"c":24.48},
{"d":"2020-07-17","o":24.40,"h":24.65,"l":24.30,"c":24.55},
{"d":"2020-07-24","o":24.55,"h":24.85,"l":24.45,"c":24.78},
{"d":"2020-07-31","o":24.70,"h":25.20,"l":24.60,"c":25.15},
{"d":"2020-08-07","o":25.37,"h":25.45,"l":25.00,"c":25.07},
{"d":"2020-08-14","o":25.44,"h":25.50,"l":25.05,"c":25.15},
{"d":"2020-08-21","o":25.37,"h":25.50,"l":24.90,"c":25.00},
{"d":"2020-08-28","o":25.00,"h":25.05,"l":24.30,"c":24.40},
{"d":"2020-09-04","o":24.26,"h":24.70,"l":24.15,"c":24.63},
{"d":"2020-09-11","o":24.70,"h":24.80,"l":24.40,"c":24.48},
{"d":"2020-09-18","o":24.10,"h":24.50,"l":23.80,"c":24.40},
{"d":"2020-09-25","o":24.85,"h":24.95,"l":24.40,"c":24.48},
{"d":"2020-10-02","o":24.70,"h":25.15,"l":24.60,"c":25.07},
{"d":"2020-10-09","o":24.92,"h":25.00,"l":24.55,"c":24.63},
{"d":"2020-10-16","o":24.85,"h":24.90,"l":24.45,"c":24.55},
{"d":"2020-10-23","o":24.40,"h":24.50,"l":23.30,"c":23.67},
{"d":"2020-10-30","o":23.74,"h":24.65,"l":23.60,"c":24.55},
{"d":"2020-11-06","o":25.44,"h":25.60,"l":25.05,"c":25.15},
{"d":"2020-11-13","o":25.30,"h":25.85,"l":25.20,"c":25.74},
{"d":"2020-11-20","o":25.81,"h":26.20,"l":25.70,"c":26.11},
{"d":"2020-11-27","o":26.04,"h":26.40,"l":25.95,"c":26.26},
{"d":"2020-12-04","o":26.52,"h":26.60,"l":25.95,"c":26.04},
{"d":"2020-12-11","o":26.48,"h":26.55,"l":25.95,"c":26.04},
{"d":"2020-12-18","o":26.40,"h":26.45,"l":25.85,"c":25.96},
{"d":"2020-12-25","o":26.11,"h":26.50,"l":26.00,"c":26.40},
{"d":"2021-01-01","o":26.33,"h":27.15,"l":26.25,"c":27.07},
{"d":"2021-01-08","o":27.00,"h":27.10,"l":26.55,"c":26.63},
{"d":"2021-01-15","o":26.78,"h":26.85,"l":26.00,"c":26.10},
{"d":"2021-01-22","o":26.40,"h":26.50,"l":25.80,"c":25.93},
{"d":"2021-01-29","o":26.26,"h":27.25,"l":26.15,"c":27.19},
{"d":"2021-02-05","o":27.37,"h":27.85,"l":27.30,"c":27.78},
{"d":"2021-02-12","o":27.89,"h":27.95,"l":27.40,"c":27.52},
{"d":"2021-02-19","o":27.74,"h":27.80,"l":27.05,"c":27.15},
{"d":"2021-02-26","o":27.45,"h":27.55,"l":26.90,"c":27.00}
],
"e8": [
{"d":"2011-03-11","v":19.97},{"d":"2011-04-01","v":20.13},{"d":"2011-04-29","v":19.92},{"d":"2011-05-27","v":19.54},{"d":"2011-06-24","v":19.11},{"d":"2011-07-22","v":19.06},{"d":"2011-08-12","v":18.15},{"d":"2011-09-09","v":17.98},{"d":"2011-09-30","v":17.23},{"d":"2011-10-21","v":17.28},{"d":"2011-11-11","v":17.5},{"d":"2011-12-02","v":17.12},{"d":"2011-12-30","v":17.07},
{"d":"2012-01-20","v":17.45},{"d":"2012-02-17","v":17.82},{"d":"2012-03-16","v":17.88},{"d":"2012-04-13","v":17.55},{"d":"2012-04-27","v":17.3},{"d":"2012-05-18","v":16.75},{"d":"2012-06-15","v":16.5},{"d":"2012-07-13","v":16.65},{"d":"2012-08-03","v":16.95},{"d":"2012-08-31","v":17.29},{"d":"2012-09-28","v":17.56},{"d":"2012-10-26","v":17.61},{"d":"2012-11-16","v":17.45},{"d":"2012-12-14","v":17.72},
{"d":"2013-01-11","v":18.1},{"d":"2013-02-08","v":18.37},{"d":"2013-03-08","v":18.47},{"d":"2013-03-29","v":18.2},{"d":"2013-04-26","v":17.77},{"d":"2013-05-24","v":17.99},{"d":"2013-06-21","v":17.72},{"d":"2013-07-12","v":17.99},{"d":"2013-08-09","v":18.26},{"d":"2013-09-20","v":18.42},{"d":"2013-10-18","v":18.75},{"d":"2013-11-15","v":19.4},{"d":"2013-12-13","v":19.29},
{"d":"2014-01-17","v":19.5},{"d":"2014-02-14","v":20.04},{"d":"2014-03-21","v":20.52},{"d":"2014-04-18","v":20.69},{"d":"2014-05-23","v":21.22},{"d":"2014-07-04","v":21.82},{"d":"2014-08-08","v":22.1},{"d":"2014-09-05","v":22.5},{"d":"2014-09-26","v":22.0},{"d":"2014-10-17","v":21.44},{"d":"2014-11-07","v":21.45},{"d":"2014-11-28","v":21.71},{"d":"2014-12-19","v":21.15},
{"d":"2015-01-02","v":21.3},{"d":"2015-01-16","v":21.3},{"d":"2015-02-20","v":22.08},{"d":"2015-03-27","v":21.97},{"d":"2015-04-24","v":22.34},{"d":"2015-05-29","v":22.18},{"d":"2015-07-03","v":21.43},{"d":"2015-07-31","v":21.33},{"d":"2015-09-04","v":20.46},{"d":"2015-10-09","v":20.4},{"d":"2015-11-06","v":20.0},{"d":"2015-11-27","v":19.85},{"d":"2015-12-11","v":19.67},{"d":"2015-12-25","v":19.6},
{"d":"2016-01-08","v":19.32},{"d":"2016-01-22","v":18.89},{"d":"2016-02-19","v":18.81},{"d":"2016-03-04","v":19.16},{"d":"2016-03-18","v":19.59},{"d":"2016-04-08","v":19.75},{"d":"2016-05-06","v":20.07},{"d":"2016-06-03","v":20.45},{"d":"2016-06-24","v":20.5},{"d":"2016-07-29","v":21.25},{"d":"2016-09-02","v":21.39},{"d":"2016-09-30","v":21.5},{"d":"2016-11-04","v":21.7},{"d":"2016-12-09","v":22.52},
{"d":"2017-01-13","v":22.9},{"d":"2017-02-10","v":23.11},{"d":"2017-03-17","v":23.06},{"d":"2017-04-21","v":23.11},{"d":"2017-05-19","v":23.06},{"d":"2017-06-23","v":22.68},{"d":"2017-07-28","v":22.57},{"d":"2017-08-25","v":22.41},{"d":"2017-09-08","v":22.35},{"d":"2017-10-13","v":23.16},{"d":"2017-11-17","v":23.7},{"d":"2017-12-15","v":23.96},
{"d":"2018-01-19","v":24.18},{"d":"2018-02-02","v":23.8},{"d":"2018-02-23","v":23.27},{"d":"2018-03-16","v":23.16},{"d":"2018-04-06","v":22.89},{"d":"2018-04-27","v":23.21},{"d":"2018-06-01","v":23.96},{"d":"2018-06-29","v":24.29},{"d":"2018-08-03","v":24.45},{"d":"2018-09-07","v":24.18},{"d":"2018-10-05","v":23.91},{"d":"2018-10-26","v":23.1},{"d":"2018-11-23","v":22.9},{"d":"2018-12-14","v":22.31},
{"d":"2019-01-04","v":22.09},{"d":"2019-01-25","v":23.03},{"d":"2019-03-01","v":23.89},{"d":"2019-04-05","v":24.39},{"d":"2019-05-03","v":24.68},{"d":"2019-05-24","v":24.47},{"d":"2019-06-28","v":24.68},{"d":"2019-08-02","v":24.68},{"d":"2019-08-30","v":24.47},{"d":"2019-09-20","v":24.9},{"d":"2019-10-18","v":24.83},{"d":"2019-11-22","v":25.4},{"d":"2019-12-20","v":25.55},
{"d":"2020-01-24","v":26.05},{"d":"2020-02-14","v":26.37},{"d":"2020-02-21","v":26.5},{"d":"2020-02-28","v":25.95},{"d":"2020-03-06","v":24.8},{"d":"2020-03-13","v":23.25},{"d":"2020-03-20","v":22.4},{"d":"2020-03-27","v":21.87},{"d":"2020-04-03","v":21.8},{"d":"2020-04-17","v":21.96},{"d":"2020-05-15","v":22.78},{"d":"2020-06-19","v":23.52},{"d":"2020-07-17","v":24.11},{"d":"2020-08-21","v":24.63},{"d":"2020-09-11","v":24.56},{"d":"2020-10-09","v":24.63},{"d":"2020-10-30","v":24.41},{"d":"2020-11-13","v":25.15},{"d":"2020-12-11","v":25.89},
{"d":"2021-01-08","v":26.33},{"d":"2021-02-05","v":26.7},{"d":"2021-02-26","v":27.04}
],
"e20": [
{"d":"2011-03-11","v":19.38},{"d":"2011-04-08","v":19.7},{"d":"2011-05-06","v":19.7},{"d":"2011-05-27","v":19.65},{"d":"2011-06-17","v":19.43},{"d":"2011-07-22","v":19.3},{"d":"2011-08-19","v":18.74},{"d":"2011-09-16","v":18.1},{"d":"2011-10-07","v":17.88},{"d":"2011-11-04","v":17.72},{"d":"2011-12-02","v":17.55},{"d":"2011-12-30","v":17.37},
{"d":"2012-01-20","v":17.5},{"d":"2012-02-17","v":17.66},{"d":"2012-03-16","v":17.7},{"d":"2012-04-13","v":17.58},{"d":"2012-05-04","v":17.4},{"d":"2012-05-18","v":17.24},{"d":"2012-06-15","v":17.0},{"d":"2012-07-13","v":16.86},{"d":"2012-08-03","v":16.91},{"d":"2012-08-31","v":17.07},{"d":"2012-09-28","v":17.29},{"d":"2012-10-26","v":17.42},{"d":"2012-11-16","v":17.45},{"d":"2012-12-14","v":17.5},
{"d":"2013-01-11","v":17.77},{"d":"2013-02-08","v":17.99},{"d":"2013-03-08","v":18.15},{"d":"2013-03-22","v":18.2},{"d":"2013-04-19","v":17.99},{"d":"2013-05-24","v":17.94},{"d":"2013-06-21","v":17.88},{"d":"2013-07-12","v":17.99},{"d":"2013-08-09","v":18.08},{"d":"2013-09-13","v":18.2},{"d":"2013-10-11","v":18.3},{"d":"2013-11-15","v":18.75},{"d":"2013-12-13","v":18.91},
{"d":"2014-01-31","v":19.34},{"d":"2014-03-07","v":19.72},{"d":"2014-04-11","v":20.1},{"d":"2014-05-09","v":20.47},{"d":"2014-06-13","v":20.85},{"d":"2014-07-18","v":21.22},{"d":"2014-08-22","v":21.65},{"d":"2014-09-12","v":21.92},{"d":"2014-10-03","v":21.76},{"d":"2014-10-24","v":21.6},{"d":"2014-11-14","v":21.71},{"d":"2014-12-05","v":21.55},{"d":"2014-12-26","v":21.46},
{"d":"2015-01-09","v":21.43},{"d":"2015-02-06","v":21.7},{"d":"2015-03-06","v":21.86},{"d":"2015-04-03","v":21.91},{"d":"2015-04-24","v":22.08},{"d":"2015-05-22","v":22.13},{"d":"2015-06-12","v":22.02},{"d":"2015-07-03","v":21.81},{"d":"2015-07-31","v":21.64},{"d":"2015-09-04","v":21.16},{"d":"2015-10-02","v":20.78},{"d":"2015-10-30","v":20.67},{"d":"2015-11-20","v":20.4},{"d":"2015-12-18","v":20.08},
{"d":"2016-01-15","v":19.65},{"d":"2016-02-12","v":19.3},{"d":"2016-03-04","v":19.45},{"d":"2016-04-01","v":19.62},{"d":"2016-04-29","v":19.85},{"d":"2016-05-20","v":20.15},{"d":"2016-06-24","v":20.26},{"d":"2016-07-29","v":20.74},{"d":"2016-09-02","v":21.0},{"d":"2016-09-30","v":21.28},{"d":"2016-11-04","v":21.55},{"d":"2016-12-09","v":21.87},
{"d":"2017-01-13","v":22.3},{"d":"2017-02-10","v":22.63},{"d":"2017-03-17","v":22.79},{"d":"2017-04-21","v":22.9},{"d":"2017-05-19","v":22.95},{"d":"2017-06-23","v":22.79},{"d":"2017-07-28","v":22.68},{"d":"2017-08-25","v":22.57},{"d":"2017-09-08","v":22.54},{"d":"2017-10-13","v":22.89},{"d":"2017-11-17","v":23.27},{"d":"2017-12-15","v":23.53},
{"d":"2018-01-19","v":23.8},{"d":"2018-02-23","v":23.53},{"d":"2018-03-16","v":23.45},{"d":"2018-04-06","v":23.16},{"d":"2018-04-27","v":23.21},{"d":"2018-06-01","v":23.59},{"d":"2018-06-29","v":23.91},{"d":"2018-08-17","v":24.18},{"d":"2018-09-28","v":24.07},{"d":"2018-10-26","v":23.64},{"d":"2018-11-23","v":23.3},{"d":"2018-12-14","v":23.03},
{"d":"2019-01-04","v":22.7},{"d":"2019-02-01","v":23.03},{"d":"2019-03-01","v":23.53},{"d":"2019-04-05","v":24.1},{"d":"2019-05-10","v":24.25},{"d":"2019-06-07","v":24.32},{"d":"2019-07-12","v":24.5},{"d":"2019-08-16","v":24.5},{"d":"2019-09-13","v":24.72},{"d":"2019-10-18","v":24.75},{"d":"2019-11-22","v":25.04},{"d":"2019-12-20","v":25.4},
{"d":"2020-01-24","v":25.62},{"d":"2020-02-21","v":25.87},{"d":"2020-02-28","v":25.7},{"d":"2020-03-06","v":25.25},{"d":"2020-03-13","v":24.6},{"d":"2020-03-20","v":24.05},{"d":"2020-04-03","v":23.6},{"d":"2020-04-17","v":23.3},{"d":"2020-05-15","v":23.0},{"d":"2020-06-05","v":23.07},{"d":"2020-07-03","v":23.3},{"d":"2020-07-24","v":23.74},{"d":"2020-08-21","v":24.04},{"d":"2020-09-11","v":24.19},{"d":"2020-10-02","v":24.33},{"d":"2020-10-23","v":24.33},{"d":"2020-11-13","v":24.85},{"d":"2020-12-11","v":25.3},
{"d":"2021-01-08","v":25.67},{"d":"2021-02-05","v":26.11},{"d":"2021-02-26","v":26.37}
],
"e50": [
{"d":"2011-03-11","v":18.3},{"d":"2011-04-15","v":18.74},{"d":"2011-05-20","v":18.9},{"d":"2011-06-17","v":18.92},{"d":"2011-07-22","v":18.9},{"d":"2011-08-26","v":18.68},{"d":"2011-09-23","v":18.36},{"d":"2011-10-28","v":18.25},{"d":"2011-12-02","v":18.1},
{"d":"2012-01-06","v":17.93},{"d":"2012-02-10","v":17.88},{"d":"2012-03-16","v":17.88},{"d":"2012-04-20","v":17.86},{"d":"2012-05-25","v":17.67},{"d":"2012-06-29","v":17.4},{"d":"2012-08-03","v":17.29},{"d":"2012-08-31","v":17.34},{"d":"2012-10-05","v":17.42},{"d":"2012-11-09","v":17.5},{"d":"2012-12-07","v":17.56},
{"d":"2013-01-11","v":17.72},{"d":"2013-02-15","v":17.83},{"d":"2013-03-15","v":17.88},{"d":"2013-04-19","v":17.88},{"d":"2013-05-24","v":17.91},{"d":"2013-06-28","v":17.91},{"d":"2013-08-09","v":17.94},{"d":"2013-09-13","v":17.99},{"d":"2013-10-18","v":18.16},{"d":"2013-12-20","v":18.53},
{"d":"2014-02-21","v":19.07},{"d":"2014-05-02","v":19.72},{"d":"2014-07-04","v":20.42},{"d":"2014-09-05","v":20.95},{"d":"2014-10-10","v":21.0},{"d":"2014-11-14","v":21.06},
{"d":"2015-01-02","v":21.15},{"d":"2015-01-23","v":21.21},{"d":"2015-03-06","v":21.43},{"d":"2015-04-10","v":21.59},{"d":"2015-05-22","v":21.73},{"d":"2015-07-03","v":21.59},{"d":"2015-08-07","v":21.54},{"d":"2015-09-18","v":21.32},{"d":"2015-10-30","v":21.1},{"d":"2015-12-04","v":20.78},
{"d":"2016-01-15","v":20.35},{"d":"2016-02-19","v":20.08},{"d":"2016-04-01","v":20.03},{"d":"2016-05-13","v":20.1},{"d":"2016-06-24","v":20.31},{"d":"2016-09-02","v":20.69},{"d":"2016-11-04","v":21.0},{"d":"2016-12-30","v":21.33},
{"d":"2017-02-10","v":21.75},{"d":"2017-03-17","v":22.0},{"d":"2017-04-21","v":22.2},{"d":"2017-05-19","v":22.3},{"d":"2017-06-23","v":22.41},{"d":"2017-07-28","v":22.45},{"d":"2017-08-25","v":22.45},{"d":"2017-09-22","v":22.45},{"d":"2017-10-27","v":22.68},{"d":"2017-12-15","v":23.0},
{"d":"2018-01-26","v":23.21},{"d":"2018-03-09","v":23.16},{"d":"2018-04-13","v":23.1},{"d":"2018-06-01","v":23.27},{"d":"2018-07-13","v":23.53},{"d":"2018-09-07","v":23.75},{"d":"2018-10-12","v":23.75},{"d":"2018-11-09","v":23.53},{"d":"2018-12-07","v":23.35},
{"d":"2019-01-04","v":23.2},{"d":"2019-02-01","v":23.24},{"d":"2019-03-01","v":23.46},{"d":"2019-04-05","v":23.71},{"d":"2019-06-07","v":24.03},{"d":"2019-08-16","v":24.18},{"d":"2019-09-13","v":24.32},{"d":"2019-10-18","v":24.47},{"d":"2019-12-20","v":24.83},
{"d":"2020-02-14","v":25.15},{"d":"2020-02-28","v":25.05},{"d":"2020-03-13","v":24.75},{"d":"2020-03-27","v":24.4},{"d":"2020-04-17","v":24.05},{"d":"2020-05-08","v":23.88},{"d":"2020-05-29","v":23.81},{"d":"2020-07-03","v":23.89},{"d":"2020-07-31","v":24.04},{"d":"2020-09-11","v":24.11},{"d":"2020-10-23","v":24.26},{"d":"2020-11-13","v":24.48},{"d":"2020-12-11","v":24.7},
{"d":"2021-01-22","v":25.07},{"d":"2021-02-26","v":25.41}
],
"e200": [
{"d":"2011-03-11","v":17.94},{"d":"2011-05-06","v":18.08},{"d":"2011-07-01","v":18.18},{"d":"2011-08-26","v":18.2},{"d":"2011-10-21","v":18.16},{"d":"2011-12-16","v":18.1},
{"d":"2012-02-10","v":18.04},{"d":"2012-04-06","v":18.0},{"d":"2012-06-01","v":17.96},{"d":"2012-07-27","v":17.92},{"d":"2012-09-21","v":17.9},{"d":"2012-11-30","v":17.89},
{"d":"2013-02-08","v":17.88},{"d":"2013-04-19","v":17.87},{"d":"2013-06-28","v":17.85},{"d":"2013-08-23","v":17.85},{"d":"2013-10-18","v":17.94},{"d":"2013-12-20","v":18.08},
{"d":"2014-02-21","v":18.26},{"d":"2014-05-02","v":18.48},{"d":"2014-07-04","v":18.75},{"d":"2014-09-05","v":19.05},{"d":"2014-11-14","v":19.28},
{"d":"2015-01-09","v":19.45},{"d":"2015-02-20","v":19.6},{"d":"2015-04-24","v":19.8},{"d":"2015-07-03","v":19.98},{"d":"2015-09-04","v":20.07},{"d":"2015-11-06","v":20.06},
{"d":"2016-01-15","v":20.0},{"d":"2016-03-18","v":19.96},{"d":"2016-05-13","v":19.95},{"d":"2016-07-01","v":20.0},{"d":"2016-09-02","v":20.15},{"d":"2016-11-04","v":20.31},{"d":"2016-12-30","v":20.45},
{"d":"2017-02-17","v":20.58},{"d":"2017-04-21","v":20.8},{"d":"2017-06-23","v":20.96},{"d":"2017-08-18","v":21.1},{"d":"2017-10-13","v":21.23},{"d":"2017-12-15","v":21.48},
{"d":"2018-02-23","v":21.7},{"d":"2018-04-27","v":21.82},{"d":"2018-07-06","v":22.03},{"d":"2018-09-07","v":22.25},{"d":"2018-10-12","v":22.3},{"d":"2018-11-23","v":22.31},
{"d":"2019-01-04","v":22.31},{"d":"2019-02-01","v":22.33},{"d":"2019-04-05","v":22.45},{"d":"2019-06-07","v":22.67},{"d":"2019-08-16","v":22.88},{"d":"2019-10-18","v":23.1},{"d":"2019-12-20","v":23.31},
{"d":"2020-02-14","v":23.49},{"d":"2020-03-13","v":23.44},{"d":"2020-04-17","v":23.34},{"d":"2020-05-22","v":23.3},{"d":"2020-07-24","v":23.37},{"d":"2020-09-25","v":23.48},{"d":"2020-11-06","v":23.52},{"d":"2020-12-11","v":23.72},
{"d":"2021-01-22","v":23.88},{"d":"2021-02-26","v":24.0}
]
},
"vconcat": [
{
  "width": 1972,
  "height": 34,
  "view": {"fill": "#d2d2d2", "stroke": null},
  "data": {"values": []},
  "mark": "point"
},
{
"width": 1857,
"height": 807,
"encoding": {
  "x": {
    "field": "d", "type": "temporal", "title": null,
    "scale": {"domain": [{"year": 2011, "month": 3, "date": 2}, {"year": 2021, "month": 3, "date": 12}]},
    "axis": {
      "values": [{"year":2012,"month":1,"date":1},{"year":2013,"month":1,"date":1},{"year":2014,"month":1,"date":1},{"year":2015,"month":1,"date":1},{"year":2016,"month":1,"date":1},{"year":2017,"month":1,"date":1},{"year":2018,"month":1,"date":1},{"year":2019,"month":1,"date":1},{"year":2020,"month":1,"date":1},{"year":2021,"month":1,"date":1}],
      "labels": false, "ticks": false, "domain": false, "grid": true,
      "gridColor": "#d6d6a6", "gridWidth": 2, "gridOpacity": 1
    }
  }
},
"layer": [
  {
    "data": {"name": "px"},
    "mark": {"type": "rule", "strokeWidth": 1},
    "encoding": {
      "y": {"field": "l", "type": "quantitative",
        "scale": {"domain": [15, 28], "nice": false, "zero": false},
        "axis": {"orient": "right", "values": [15,16,17,18,19,20,21,22,23,24,25,26,27,28], "title": "2/28/21", "titleAngle": 0, "titleX": 8, "titleY": -26, "titleAlign": "left", "titleBaseline": "middle", "titleFont": "DejaVu Sans Mono", "titleFontSize": 18, "titleFontWeight": "normal", "titleColor": "#1a1a1a", "labelFont": "DejaVu Sans Mono", "labelFontSize": 18, "labelColor": "#1a1a1a", "labelPadding": 24, "ticks": false, "domain": false, "grid": true, "gridColor": "#d6d6a6", "gridWidth": 2, "gridOpacity": 1}},
      "y2": {"field": "h"},
      "stroke": {"condition": {"test": "datum.c >= datum.o", "value": "#111111"}, "value": "#a00000"}
    }
  },
  {
    "data": {"name": "px"},
    "mark": {"type": "bar", "width": 2.6, "strokeWidth": 1},
    "encoding": {
      "y": {"field": "o", "type": "quantitative",
        "scale": {"domain": [15, 28], "nice": false, "zero": false},
        "axis": {"orient": "right", "values": [15,16,17,18,19,20,21,22,23,24,25,26,27,28], "title": "2/28/21", "titleAngle": 0, "titleX": 8, "titleY": -26, "titleAlign": "left", "titleBaseline": "middle", "titleFont": "DejaVu Sans Mono", "titleFontSize": 18, "titleFontWeight": "normal", "titleColor": "#1a1a1a", "labelFont": "DejaVu Sans Mono", "labelFontSize": 18, "labelColor": "#1a1a1a", "labelPadding": 24, "ticks": false, "domain": false, "grid": true, "gridColor": "#d6d6a6", "gridWidth": 2, "gridOpacity": 1}},
      "y2": {"field": "c"},
      "fill": {"condition": {"test": "datum.c >= datum.o", "value": "#ecece4"}, "value": "#a00000"},
      "stroke": {"condition": {"test": "datum.c >= datum.o", "value": "#111111"}, "value": "#a00000"}
    }
  },
  {
    "data": {"name": "e200"},
    "mark": {"type": "line", "strokeWidth": 2, "interpolate": "monotone"},
    "encoding": {
      "y": {"field": "v", "type": "quantitative",
        "scale": {"domain": [15, 28], "nice": false, "zero": false},
        "axis": {"orient": "right", "values": [15,16,17,18,19,20,21,22,23,24,25,26,27,28], "title": "2/28/21", "titleAngle": 0, "titleX": 8, "titleY": -26, "titleAlign": "left", "titleBaseline": "middle", "titleFont": "DejaVu Sans Mono", "titleFontSize": 18, "titleFontWeight": "normal", "titleColor": "#1a1a1a", "labelFont": "DejaVu Sans Mono", "labelFontSize": 18, "labelColor": "#1a1a1a", "labelPadding": 24, "ticks": false, "domain": false, "grid": true, "gridColor": "#d6d6a6", "gridWidth": 2, "gridOpacity": 1}},
      "color": {
        "datum": "EMA(200)", "type": "nominal",
        "scale": {"domain": ["CA:XIU Weekly", "EMA(8)", "EMA(20)", "EMA(50)", "EMA(200)"], "range": ["#000000", "#d3a258", "#2f80ff", "#d98686", "#ff6a10"]},
        "legend": {
          "orient": "none", "legendX": 165, "legendY": -39, "direction": "horizontal", "title": null,
          "symbolType": "stroke", "symbolSize": 576, "symbolStrokeWidth": 8, "symbolOpacity": 1,
          "labelFont": "DejaVu Sans Mono", "labelFontSize": 18, "labelColor": "#1a1a1a",
          "labelAlign": "right", "labelOffset": -40, "columnPadding": 6, "labelLimit": 300
        }
      }
    }
  },
  {
    "data": {"name": "e50"},
    "mark": {"type": "line", "strokeWidth": 1.6, "interpolate": "monotone"},
    "encoding": {
      "y": {"field": "v", "type": "quantitative",
        "scale": {"domain": [15, 28], "nice": false, "zero": false},
        "axis": {"orient": "right", "values": [15,16,17,18,19,20,21,22,23,24,25,26,27,28], "title": "2/28/21", "titleAngle": 0, "titleX": 8, "titleY": -26, "titleAlign": "left", "titleBaseline": "middle", "titleFont": "DejaVu Sans Mono", "titleFontSize": 18, "titleFontWeight": "normal", "titleColor": "#1a1a1a", "labelFont": "DejaVu Sans Mono", "labelFontSize": 18, "labelColor": "#1a1a1a", "labelPadding": 24, "ticks": false, "domain": false, "grid": true, "gridColor": "#d6d6a6", "gridWidth": 2, "gridOpacity": 1}},
      "color": {"datum": "EMA(50)", "type": "nominal"}
    }
  },
  {
    "data": {"name": "e20"},
    "mark": {"type": "line", "strokeWidth": 1.8, "interpolate": "monotone"},
    "encoding": {
      "y": {"field": "v", "type": "quantitative",
        "scale": {"domain": [15, 28], "nice": false, "zero": false},
        "axis": {"orient": "right", "values": [15,16,17,18,19,20,21,22,23,24,25,26,27,28], "title": "2/28/21", "titleAngle": 0, "titleX": 8, "titleY": -26, "titleAlign": "left", "titleBaseline": "middle", "titleFont": "DejaVu Sans Mono", "titleFontSize": 18, "titleFontWeight": "normal", "titleColor": "#1a1a1a", "labelFont": "DejaVu Sans Mono", "labelFontSize": 18, "labelColor": "#1a1a1a", "labelPadding": 24, "ticks": false, "domain": false, "grid": true, "gridColor": "#d6d6a6", "gridWidth": 2, "gridOpacity": 1}},
      "color": {"datum": "EMA(20)", "type": "nominal"}
    }
  },
  {
    "data": {"name": "e8"},
    "mark": {"type": "line", "strokeWidth": 1.6, "interpolate": "monotone"},
    "encoding": {
      "y": {"field": "v", "type": "quantitative",
        "scale": {"domain": [15, 28], "nice": false, "zero": false},
        "axis": {"orient": "right", "values": [15,16,17,18,19,20,21,22,23,24,25,26,27,28], "title": "2/28/21", "titleAngle": 0, "titleX": 8, "titleY": -26, "titleAlign": "left", "titleBaseline": "middle", "titleFont": "DejaVu Sans Mono", "titleFontSize": 18, "titleFontWeight": "normal", "titleColor": "#1a1a1a", "labelFont": "DejaVu Sans Mono", "labelFontSize": 18, "labelColor": "#1a1a1a", "labelPadding": 24, "ticks": false, "domain": false, "grid": true, "gridColor": "#d6d6a6", "gridWidth": 2, "gridOpacity": 1}},
      "color": {"datum": "EMA(8)", "type": "nominal"}
    }
  }
]
}
]
}
